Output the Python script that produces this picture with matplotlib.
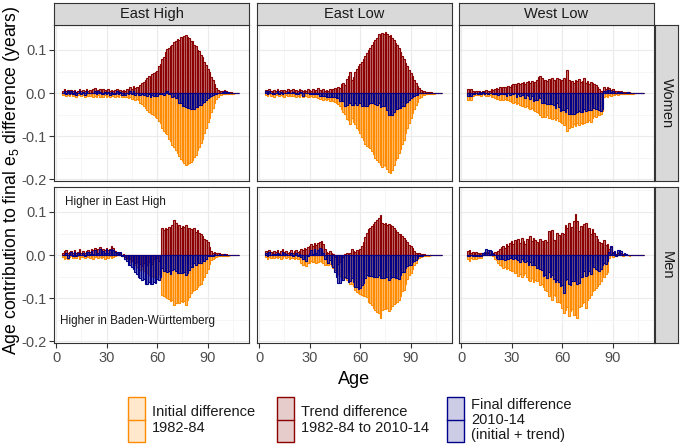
import numpy as np
import matplotlib
matplotlib.use("Agg")
import matplotlib.pyplot as plt
from matplotlib.colors import to_rgba
from matplotlib.patches import Rectangle

plt.rcParams["font.family"] = ["Liberation Sans", "DejaVu Sans"]
plt.rcParams["mathtext.fontset"] = "custom"
plt.rcParams["mathtext.rm"] = "Liberation Sans"
plt.rcParams["mathtext.default"] = "regular"

# ages 4..108, values in 1/1000 years
ages = np.arange(4, 109)
regions = ["East High", "East Low", "West Low"]
sexes = ["Women", "Men"]

# ---- Women, East High
trend_w_eh = [6, 9, 4, 8, 5, 7,
              5, 8, 3, 6, 9, 4, 7, 5, 10, 6,
              8, 5, 9, 11, 6, 8, 10, 5, 9, 7,
              6, 9, 5, 8, 4, 7, 10, 6, 8, 5,
              7, 6, 9, 8, 14, 10, 16, 11, 14, 13,
              18, 24, 26, 31, 34, 40, 36, 44, 46, 50,
              52, 62, 68, 78, 84, 95, 102, 104, 110, 112,
              118, 120, 126, 124, 130, 128, 133, 134, 131, 128,
              122, 120, 112, 110, 100, 98, 88, 84, 72, 66,
              55, 48, 38, 30, 20, 12, 8, 5, 4, 6,
              8, 4, 3, 2, 2, 1, 1, 1, 0]
init_w_eh = [-5, -3, -6, -4, -7, -3,
             -6, -4, -8, -5, -3, -7, -5, -9, -4, -6,
             -7, -5, -8, -6, -9, -4, -8, -6, -10, -5,
             -8, -6, -9, -5, -7, -10, -6, -8, -5, -9,
             -7, -10, -8, -11, -9, -13, -12, -15, -14, -17,
             -22, -25, -30, -34, -40, -43, -46, -49, -52, -56,
             -58, -64, -70, -81, -88, -92, -96, -106, -112, -120,
             -125, -132, -138, -146, -152, -158, -162, -167, -165, -162,
             -159, -155, -148, -143, -132, -126, -115, -106, -92, -82,
             -67, -57, -44, -34, -22, -14, -8, -5, -4, -3,
             -2, -2, -1, -1, -1, -1, 0, 0, 0]

# ---- Women, East Low
trend_w_el = [8, 5, 9, 6, 4, 7,
              6, 9, 5, 7, 4, 8, 6, 10, 5, 7,
              9, 6, 8, 5, 10, 7, 4, 8, 6, 9,
              7, 5, 9, 6, 8, 11, 7, 5, 9, 6,
              8, 6, 10, 7, 9, 12, 10, 14, 12, 20,
              24, 18, 32, 40, 50, 30, 38, 48, 55, 62,
              68, 72, 80, 86, 92, 100, 104, 112, 118, 124,
              128, 136, 134, 140, 138, 141, 136, 132, 134, 128,
              124, 117, 112, 105, 96, 86, 78, 70, 62, 54,
              46, 39, 30, 23, 16, 12, 8, 5, 4, 3,
              3, 2, 2, 1, 1, 1, 1, 0, 0]
init_w_el = [-4, -7, -3, -6, -5, -8,
             -5, -3, -7, -4, -6, -8, -5, -7, -4, -6,
             -7, -5, -9, -6, -8, -5, -10, -7, -6, -9,
             -8, -6, -10, -7, -9, -12, -14, -11, -15, -13,
             -16, -14, -18, -15, -19, -20, -22, -26, -31, -36,
             -43, -48, -60, -62, -72, -58, -66, -72, -82, -85,
             -92, -101, -108, -117, -122, -126, -128, -134, -142, -150,
             -155, -160, -166, -171, -168, -170, -176, -183, -186, -178,
             -168, -155, -150, -140, -130, -117, -108, -93, -82, -70,
             -58, -47, -36, -27, -20, -12, -8, -5, -4, -3,
             -2, -2, -1, -1, -1, 0, 0, 0, 0]

# ---- Women, West Low
trend_w_wl = [9, 6, 10, 4, 3, 5,
              4, 6, 3, 5, 4, 7, 5, 6, 9, 8,
              10, 12, 9, 14, 12, 15, 13, 11, 16, 14,
              18, 20, 22, 17, 23, 20, 24, 26, 22, 25,
              27, 24, 28, 22, 26, 30, 38, 40, 34, 28,
              31, 27, 33, 29, 35, 30, 28, 34, 32, 27,
              30, 35, 28, 54, 31, 26, 29, 24, 30, 27,
              32, 26, 29, 34, 24, 28, 22, 26, 24, 20,
              18, 14, 10, 6, 4, 14, 10, 15, 12, 8,
              10, 5, 4, 6, 3, 4, 3, 2, 2, 3,
              2, 1, 1, 1, 1, 0, 0, 0, 0]
init_w_wl = [-15, -12, -16, -6, -5, -4,
             -5, -4, -6, -3, -5, -7, -6, -5, -8, -10,
             -12, -14, -13, -15, -12, -16, -14, -17, -15, -18,
             -20, -23, -21, -26, -24, -27, -29, -31, -33, -30,
             -34, -37, -35, -40, -42, -45, -47, -52, -56, -50,
             -55, -52, -58, -54, -60, -57, -62, -58, -64, -68,
             -70, -75, -72, -89, -80, -74, -78, -72, -76, -70,
             -74, -69, -72, -70, -66, -68, -62, -66, -58, -54,
             -55, -52, -50, -48, -42, -8, -6, -8, -5, -6,
             -5, -4, -3, -4, -3, -2, -2, -2, -1, -1,
             -1, -1, -1, 0, 0, 0, 0, 0, 0]

# ---- Men, East High
trend_m_eh = [5, 9, 12, 4, 7, 10,
              6, 11, 5, 8, 13, 6, 9, 4, 10, 12,
              8, 14, 11, 16, 9, 13, 18, 10, 15, 12,
              17, 11, 14, 21, 16, 9, 6, 3, 5, -2,
              2, -4, -6, -10, -8, -14, -12, -18, -15, -22,
              -20, -26, -18, -30, -24, -16, -28, -20, -10, -18,
              -6, -14, -2, 62, 58, 64, 60, 66, 62, 70,
              82, 74, 66, 70, 64, 68, 66, 70, 62, 64,
              60, 56, 62, 54, 58, 52, 48, 44, 38, 34,
              30, 18, 10, 6, 8, 5, 4, 5, 3, 2,
              3, 2, 1, 1, 1, 0, 0, 0, 0]
init_m_eh = [-4, -8, -6, -10, -5, -3,
             -7, -4, -6, -3, -8, -5, -4, -6, -3, -5,
             -6, -4, -8, -5, -3, -7, -4, -6, -5, -8,
             -4, -6, -3, -7, -5, -2, 2, 4, 3, 1,
             -2, -5, -8, -12, -16, -14, -20, -22, -28, -30,
             -34, -32, -38, -36, -42, -46, -40, -48, -52, -46,
             -50, -44, -48, -92, -96, -98, -100, -102, -106, -104,
             -115, -112, -108, -112, -106, -110, -106, -116, -104, -98,
             -88, -84, -80, -78, -74, -70, -66, -58, -52, -42,
             -32, -20, -12, -8, -6, -4, -3, -2, -2, -1,
             -1, -1, -1, 0, 0, 0, 0, 0, 0]

# ---- Men, East Low
trend_m_el = [10, 6, 12, 8, 5, 9,
              7, 11, 6, 9, 13, 7, 10, 5, 8, 11,
              6, 9, 12, 7, 10, 14, 12, 16, 13, 18,
              22, 26, 20, 28, 24, 27, 30, 32, 25, 14,
              8, 6, 9, 5, 2, -4, -12, -20, -16, -8,
              -4, 2, 5, 0, 6, 14, 10, 8, 12, 9,
              14, 22, 30, 42, 52, 60, 64, 68, 72, 76,
              82, 87, 92, 74, 71, 75, 70, 72, 70, 68,
              64, 58, 54, 48, 50, 44, 40, 36, 30, 24,
              20, 17, 10, 6, 4, 5, 3, 2, 2, 1,
              1, 1, 1, 0, 0, 0, 0, 0, 0]
init_m_el = [-5, -8, -4, -7, -3, -6,
             -5, -7, -4, -8, -6, -3, -7, -5, -8, -6,
             -7, -9, -6, -10, -8, -18, -22, -20, -26, -19,
             -18, -14, -17, -15, -18, -16, -14, -17, -19, -22,
             -18, -24, -20, -26, -30, -35, -40, -45, -49, -50,
             -54, -53, -58, -62, -66, -68, -72, -82, -86, -88,
             -90, -92, -94, -95, -98, -108, -112, -116, -122, -128,
             -132, -134, -145, -128, -124, -126, -122, -130, -124, -119,
             -114, -112, -108, -104, -96, -84, -80, -66, -56, -46,
             -42, -33, -24, -18, -10, -6, -4, -3, -2, -1,
             -1, -1, 0, 0, 0, 0, 0, 0, 0]

# ---- Men, West Low
trend_m_wl = [9, 12, 6, 8, 4, 7,
              5, 3, 6, 4, 2, 5, 7, 3, 6, 4,
              8, 5, 10, 14, 18, 22, 17, 25, 20, 28,
              32, 26, 36, 30, 37, 28, 40, 33, 25, 38,
              36, 44, 32, 40, 35, 30, 28, 37, 32, 26,
              34, 30, 56, 40, 58, 36, 34, 52, 46, 40,
              52, 48, 70, 64, 75, 60, 66, 78, 95, 80,
              56, 68, 60, 72, 75, 58, 64, 48, 60, 52,
              44, 37, 30, 28, 21, 34, 24, 26, 14, 18,
              8, 5, 2, 4, 3, 6, 2, 3, 2, 1,
              1, 1, 1, 0, 0, 0, 0, 0, 0]
init_m_wl = [-10, -14, -6, -9, -5, -8,
             -6, -4, -7, 2, 5, 8, 4, 9, 3, -2,
             -8, -12, -18, -22, -26, -30, -28, -33, -30, -34,
             -38, -36, -42, -40, -48, -44, -50, -46, -42, -52,
             -58, -60, -54, -62, -58, -60, -56, -70, -66, -74,
             -80, -84, -96, -90, -104, -92, -96, -110, -108, -112,
             -122, -135, -128, -120, -142, -130, -125, -138, -140, -146,
             -120, -118, -112, -110, -123, -104, -100, -92, -84, -80,
             -76, -72, -68, -60, -45, -52, -44, -40, -6, 3,
             -4, 5, -3, 8, 9, 4, -2, 3, 1, 0,
             -1, 0, 0, 0, 0, 0, 0, 0, 0]

initial = {("Women", "East High"): init_w_eh, ("Women", "East Low"): init_w_el,
           ("Women", "West Low"): init_w_wl, ("Men", "East High"): init_m_eh,
           ("Men", "East Low"): init_m_el, ("Men", "West Low"): init_m_wl}
trend = {("Women", "East High"): trend_w_eh, ("Women", "East Low"): trend_w_el,
         ("Women", "West Low"): trend_w_wl, ("Men", "East High"): trend_m_eh,
         ("Men", "East Low"): trend_m_el, ("Men", "West Low"): trend_m_wl}

orange = "#FF8C00"
red = "#8B0000"
blue = "#00008B"

W, H = 680, 447
fig = plt.figure(figsize=(W / 100, H / 100), dpi=100)


def px_axes(x0, y0, x1, y1):
    return fig.add_axes([x0 / W, 1 - y1 / H, (x1 - x0) / W, (y1 - y0) / H])


col_x = [(54, 249), (257, 452), (459, 654)]
row_y = [(25, 181), (187, 343)]
border = "#333333"

for r, sex in enumerate(sexes):
    for c, reg in enumerate(regions):
        ax = px_axes(col_x[c][0], row_y[r][0], col_x[c][1], row_y[r][1])
        ini = np.array(initial[(sex, reg)]) / 1000
        tr = np.array(trend[(sex, reg)]) / 1000
        fin = ini + tr
        for vals, col in [(ini, orange), (tr, red), (fin, blue)]:
            ax.bar(ages, vals, width=1, facecolor=to_rgba(col, 0.5),
                   edgecolor=col, linewidth=0.8, zorder=3)
        ax.set_xlim(-1.2, 114.5)
        ax.set_ylim(-0.204, 0.158)
        ax.set_xticks([0, 30, 60, 90])
        ax.set_xticks([15, 45, 75, 105], minor=True)
        ax.set_yticks([-0.2, -0.1, 0.0, 0.1])
        ax.set_yticks([-0.15, -0.05, 0.05, 0.15], minor=True)
        ax.grid(True, which="major", color="#EBEBEB", linewidth=0.8, zorder=0)
        ax.grid(True, which="minor", color="#F3F3F3", linewidth=0.5, zorder=0)
        ax.set_axisbelow(True)
        for s in ax.spines.values():
            s.set_color(border)
            s.set_linewidth(0.8)
        ax.tick_params(which="minor", length=0)
        ax.tick_params(which="major", length=3.5, color=border, width=0.8,
                       labelsize=10.5, labelcolor="#4D4D4D", pad=2)
        ax.set_yticklabels(["-0.2", "-0.1", "0.0", "0.1"])
        if c > 0:
            ax.tick_params(axis="y", length=0, labelleft=False)
        if r == 0:
            ax.tick_params(axis="x", length=0, labelbottom=False)

        if r == 0:
            st = px_axes(col_x[c][0], 3, col_x[c][1], 25)
            st.set_facecolor("#D9D9D9")
            st.set_xticks([])
            st.set_yticks([])
            for s in st.spines.values():
                s.set_color(border)
                s.set_linewidth(0.8)
            st.text(0.5, 0.5, reg, ha="center", va="center", fontsize=10.5,
                    color="#1A1A1A", transform=st.transAxes)
        if c == 2:
            st = px_axes(655, row_y[r][0], 678, row_y[r][1])
            st.set_facecolor("#D9D9D9")
            st.set_xticks([])
            st.set_yticks([])
            for s in st.spines.values():
                s.set_color(border)
                s.set_linewidth(0.8)
            st.text(0.5, 0.5, sex, ha="center", va="center", fontsize=10.5,
                    rotation=-90, color="#1A1A1A", transform=st.transAxes)
        if r == 1 and c == 0:
            ax.text(5.4, 0.123, "Higher in East High", fontsize=8.4, va="center",
                    color="#1A1A1A")
            ax.text(2.4, -0.153, "Higher in Baden-Württemberg", fontsize=8.4,
                    va="center", color="#1A1A1A")

# axis titles and legend in pixel coordinates
lg = fig.add_axes([0, 0, 1, 1], zorder=-1)
lg.set_xlim(0, W)
lg.set_ylim(H, 0)
lg.axis("off")
lg.text(12, 180, "Age contribution to final e$_5$ difference (years)", rotation=90,
        ha="center", va="center", fontsize=12.7, color="#000000")
lg.text(354, 380, "Age", ha="center", va="center", fontsize=13)

keys = [(128, orange, "Initial difference\n1982-84"),
        (277, red, "Trend difference\n1982-84 to 2010-14"),
        (447, blue, "Final difference\n2010-14\n(initial + trend)")]
for kx, col, lab in keys:
    lg.add_patch(Rectangle((kx, 397), 17, 45, facecolor=to_rgba(col, 0.2),
                           edgecolor=col, linewidth=1))
    lg.plot([kx, kx + 17], [419.5, 419.5], color=col, linewidth=1)
    lg.text(kx + 24, 420, lab, ha="left", va="center", fontsize=10.5,
            linespacing=1.1, color="#1A1A1A")

fig.savefig("out.png", dpi=100)
